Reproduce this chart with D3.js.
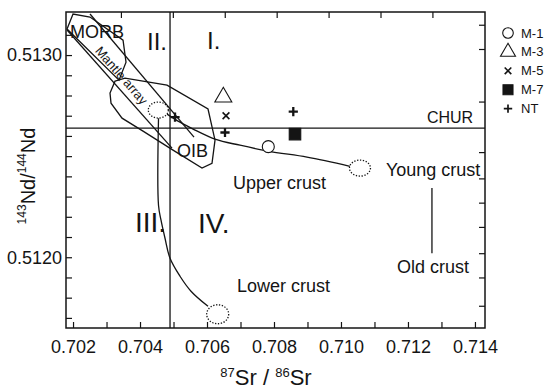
<!DOCTYPE html>
<html>
<head>
<meta charset="utf-8">
<script src="https://cdn.jsdelivr.net/npm/d3@7"></script>
<style>
  html, body { margin: 0; padding: 0; background: #fff; }
  svg { display: block; font-family: "Liberation Sans", Arial, sans-serif; }
</style>
</head>
<body>
<svg id="chart" width="550" height="392"></svg>
<script>
// 143Nd/144Nd vs 87Sr/86Sr diagram with mantle / crust reservoirs

// ── Axes ─────────────────────────────────────────────────────────────────────
const X_DOMAIN = [0.70179, 0.71430];
const Y_DOMAIN = [0.51165, 0.513213];
const srTicks  = [0.702, 0.703, 0.704, 0.705, 0.706, 0.707, 0.708, 0.709, 0.710, 0.711, 0.712, 0.713, 0.714];
const srLabels = ['0.702', '0.704', '0.706', '0.708', '0.710', '0.712', '0.714'];
const ndTicks  = [0.5117, 0.5118, 0.5119, 0.5120, 0.5121, 0.5122, 0.5123, 0.5124, 0.5125, 0.5126, 0.5127, 0.5128, 0.5129, 0.5130, 0.5131];
const ndLabels = ['0.5120', '0.5130'];
const topTicks   = [0.70343, 0.70498, 0.70653, 0.70808, 0.70963, 0.71118, 0.71273];
const rightTicks = [0.51315, 0.51303, 0.51277, 0.51252, 0.51239, 0.51227, 0.51215, 0.51202, 0.51190, 0.51176];

// reference lines
const BULK_EARTH_SR = 0.704896;
const CHUR_ND = 0.512639;

// ── Fields and mixing curves ─────────────────────────────────────────────────
const morbField = [
    [0.701821, 0.513129], [0.702000, 0.513203], [0.702507, 0.513188],
    [0.703493, 0.513074], [0.703582, 0.512965], [0.703373, 0.512876]
];
const oibField = [
    [0.703254, 0.512871], [0.703552, 0.512886], [0.704806, 0.512851], [0.706030, 0.512733],
    [0.706239, 0.512579], [0.706149, 0.512465], [0.705851, 0.512441], [0.704985, 0.512530],
    [0.704090, 0.512624], [0.703463, 0.512688], [0.703134, 0.512762], [0.703104, 0.512812]
];
const mantleUpper = [[0.702507, 0.513203], [0.705612, 0.512594]];
const mantleLower = [[0.701821, 0.513124], [0.704955, 0.512540]];
const upperCrustCurve = [
    [0.704806, 0.512708], [0.705194, 0.512668], [0.705642, 0.512629], [0.706239, 0.512584],
    [0.706985, 0.512554], [0.707821, 0.512525], [0.708985, 0.512495], [0.710269, 0.512450]
];
const lowerCrustCurve = [
    [0.704552, 0.512688], [0.704552, 0.512257], [0.704627, 0.512183], [0.704746, 0.512094],
    [0.704896, 0.511995], [0.705194, 0.511906], [0.705522, 0.511832], [0.706030, 0.511757]
];
const oldCrustLine = [[0.712716, 0.512342], [0.712716, 0.512020]];
// end-member reservoirs (dotted ellipses): OIB source, young crust, lower crust
const endMembers = [[0.704546, 0.512728], [0.710567, 0.512441], [0.706319, 0.511718]];

// ── Samples ──────────────────────────────────────────────────────────────────
const sampleIds = ['M-1', 'M-3', 'M-5', 'M-7', 'NT', 'NT', 'NT'];
const sampleSr  = [0.707830, 0.706487, 0.706567, 0.708627, 0.705045, 0.706537, 0.708576];
const sampleNd  = [0.512547, 0.512792, 0.512700, 0.512609, 0.512693, 0.512617, 0.512720];
const legendIds = ['M-1', 'M-3', 'M-5', 'M-7', 'NT'];

const MARKER = {
    'M-1': 'circle', 'M-3': 'triangle', 'M-5': 'x', 'M-7': 'square', 'NT': 'plus'
};

// ── Setup ────────────────────────────────────────────────────────────────────
const INK = '#141414';
const PLOT = { left: 66, right: 485, top: 12, bottom: 328 };
const svg = d3.select('#chart');

const x = d3.scaleLinear().domain(X_DOMAIN).range([PLOT.left, PLOT.right]);
const y = d3.scaleLinear().domain(Y_DOMAIN).range([PLOT.bottom, PLOT.top]);

function styleAxis(g) {
    g.select('.domain').remove();
    g.selectAll('.tick line').attr('stroke', INK).attr('stroke-width', 1.2);
    g.selectAll('.tick text').attr('fill', INK).attr('font-size', 18)
        .attr('font-family', '"Liberation Sans", Arial, sans-serif');
}

svg.append('g').attr('transform', `translate(0,${PLOT.bottom})`)
    .call(d3.axisBottom(x).tickValues(srTicks).tickSize(-6).tickPadding(12)
        .tickFormat(d => { const s = d3.format('.3f')(d); return srLabels.includes(s) ? s : ''; }))
    .call(styleAxis);

svg.append('g').attr('transform', `translate(${PLOT.left},0)`)
    .call(d3.axisLeft(y).tickValues(ndTicks).tickSize(-6).tickPadding(4)
        .tickFormat(d => { const s = d3.format('.4f')(d); return ndLabels.includes(s) ? s : ''; }))
    .call(styleAxis);

svg.append('g').attr('transform', `translate(0,${PLOT.top})`)
    .call(d3.axisTop(x).tickValues(topTicks).tickSize(-6).tickFormat(''))
    .call(styleAxis);

svg.append('g').attr('transform', `translate(${PLOT.right},0)`)
    .call(d3.axisRight(y).tickValues(rightTicks).tickSize(-6).tickFormat(''))
    .call(styleAxis);

// frame
svg.append('rect')
    .attr('x', PLOT.left).attr('y', PLOT.top)
    .attr('width', PLOT.right - PLOT.left).attr('height', PLOT.bottom - PLOT.top)
    .attr('fill', 'none').attr('stroke', INK).attr('stroke-width', 1.5);

// ── Reference lines ──────────────────────────────────────────────────────────
const plotG = svg.append('g').attr('fill', 'none').attr('stroke', INK).attr('stroke-width', 1.3);

plotG.append('line')
    .attr('x1', x(BULK_EARTH_SR)).attr('x2', x(BULK_EARTH_SR))
    .attr('y1', PLOT.top).attr('y2', PLOT.bottom);
plotG.append('line')
    .attr('x1', PLOT.left).attr('x2', PLOT.right)
    .attr('y1', y(CHUR_ND)).attr('y2', y(CHUR_ND));

// ── Fields ───────────────────────────────────────────────────────────────────
const lineGen = d3.line().x(d => x(d[0])).y(d => y(d[1]));

plotG.append('path').attr('d', lineGen(morbField) + 'Z');
plotG.append('path').attr('d', lineGen(oibField) + 'Z');
plotG.append('path').attr('d', lineGen(mantleUpper));
plotG.append('path').attr('d', lineGen(mantleLower));

plotG.append('path').attr('d', lineGen.curve(d3.curveMonotoneX)(upperCrustCurve));
plotG.append('path').attr('d', lineGen.curve(d3.curveCatmullRom.alpha(0.5))(lowerCrustCurve));
lineGen.curve(d3.curveLinear);
plotG.append('path').attr('d', lineGen(oldCrustLine));

// dotted end-member ellipses
const ELLIPSE_R = [[10, 8], [10.5, 8], [11, 9.5]];
svg.append('g').selectAll('ellipse')
    .data(endMembers)
    .join('ellipse')
    .attr('cx', d => x(d[0])).attr('cy', d => y(d[1]))
    .attr('rx', (d, i) => ELLIPSE_R[i][0]).attr('ry', (d, i) => ELLIPSE_R[i][1])
    .attr('fill', '#fff').attr('stroke', INK).attr('stroke-width', 1.3)
    .attr('stroke-dasharray', '1.3 1.6');

// ── Markers ──────────────────────────────────────────────────────────────────
function markerPath(type, s) {
    const p = d3.path();
    if (type === 'circle') { p.moveTo(s, 0); p.arc(0, 0, s, 0, 2 * Math.PI); }
    else if (type === 'triangle') {
        const h = s * Math.sqrt(3) / 2;
        p.moveTo(0, -2 * h / 3); p.lineTo(s / 2, h / 3); p.lineTo(-s / 2, h / 3); p.closePath();
    }
    else if (type === 'square') { p.rect(-s / 2, -s / 2, s, s); }
    else if (type === 'x') { p.moveTo(-s, -s); p.lineTo(s, s); p.moveTo(-s, s); p.lineTo(s, -s); }
    else if (type === 'plus') { p.moveTo(-s, 0); p.lineTo(s, 0); p.moveTo(0, -s); p.lineTo(0, s); }
    return p.toString();
}

const PLOT_SIZE   = { circle: 6, triangle: 17, x: 3.4, square: 11.5, plus: 4.6 };
const LEGEND_SIZE = { circle: 5.3, triangle: 15, x: 3.3, square: 10, plus: 4.2 };

function styleMarker(sel, type, legend) {
    sel.attr('stroke', INK)
        .attr('fill', type === 'square' ? INK : (type === 'circle' ? '#fff' : 'none'))
        .attr('stroke-width', type === 'plus' ? (legend ? 1.7 : 2.3) : (type === 'x' ? 1.6 : 1.1));
}

sampleIds.forEach((id, i) => {
    const type = MARKER[id];
    svg.append('path')
        .attr('transform', `translate(${x(sampleSr[i])},${y(sampleNd[i])})`)
        .attr('d', markerPath(type, PLOT_SIZE[type]))
        .call(styleMarker, type, false);
});

// ── Legend ───────────────────────────────────────────────────────────────────
const legG = svg.append('g').attr('transform', 'translate(508,33)');
legendIds.forEach((id, i) => {
    const type = MARKER[id];
    const row = legG.append('g').attr('transform', `translate(0,${i * 18.9})`);
    row.append('path').attr('d', markerPath(type, LEGEND_SIZE[type])).call(styleMarker, type, true);
    row.append('text').attr('x', 13).attr('dominant-baseline', 'central')
        .attr('font-size', 13).attr('fill', INK).text(id);
});

// ── Annotations ──────────────────────────────────────────────────────────────
function label(text, sr, nd, size) {
    return svg.append('text').attr('x', x(sr)).attr('y', y(nd))
        .attr('font-size', size).attr('fill', INK).text(text);
}
label('II.', 0.704209, 0.513025, 24);
label('I.', 0.706000, 0.513030, 24);
label('III.', 0.703851, 0.512124, 28);
label('IV.', 0.705731, 0.512119, 28);
label('MORB', 0.701910, 0.513084, 18);
label('OIB', 0.705104, 0.512498, 18);
label('CHUR', 0.712567, 0.512663, 16);
label('Young crust', 0.711343, 0.512404, 18);
label('Upper crust', 0.706776, 0.512337, 18);
label('Lower crust', 0.706896, 0.511827, 18);
label('Old crust', 0.711672, 0.511921, 18);

svg.append('text')
    .attr('transform', `translate(${x(0.703448)},${y(0.512899)}) rotate(49)`)
    .attr('text-anchor', 'middle').attr('dominant-baseline', 'central')
    .attr('font-size', 13).attr('fill', INK).text('Mantle array');

// axis titles
const xt = svg.append('text').attr('x', 266).attr('y', 385)
    .attr('text-anchor', 'middle').attr('fill', INK).attr('font-size', 22);
xt.append('tspan').attr('font-size', 13).attr('dy', -8).text('87');
xt.append('tspan').attr('dy', 8).text('Sr / ');
xt.append('tspan').attr('font-size', 13).attr('dy', -8).text('86');
xt.append('tspan').attr('dy', 8).text('Sr');

const yt = svg.append('text').attr('transform', 'translate(35,176) rotate(-90)')
    .attr('text-anchor', 'middle').attr('fill', INK).attr('font-size', 20);
yt.append('tspan').attr('font-size', 12).attr('dy', -9).text('143');
yt.append('tspan').attr('dy', 9).text('Nd/');
yt.append('tspan').attr('font-size', 12).attr('dy', -9).text('144');
yt.append('tspan').attr('dy', 9).text('Nd');
</script>
</body>
</html>
